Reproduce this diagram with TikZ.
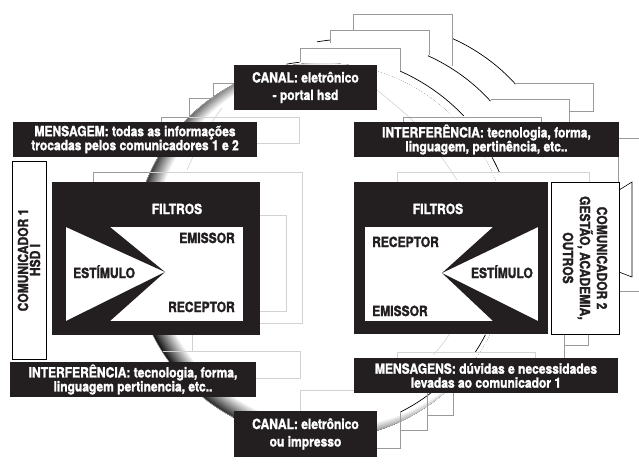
\documentclass[tikz,border=0pt]{standalone}
\usepackage{fontspec}
\setmainfont{texgyreheros-bold}[Extension=.otf, FakeStretch=0.86, FakeBold=1.6]
\definecolor{boxblack}{HTML}{231F20}
\definecolor{lineout}{HTML}{9A9A9A}
\definecolor{linein}{HTML}{D2D2D2}
\newcommand{\lblfont}{\fontsize{14}{14}\selectfont}
\newcommand{\canalfont}{\fontsize{14}{17.5}\selectfont}
\newcommand{\comAfont}{\fontsize{14}{12}\selectfont}
\newcommand{\comBfont}{\fontsize{14}{17}\selectfont}
\begin{document}
\begin{tikzpicture}[x=1pt,y=-1pt,
  darkbox/.style={fill=boxblack, draw=none, inner sep=0pt, text=white, align=center},
  combox/.style={fill=white, draw=black, line width=0.8pt, inner sep=0pt, align=center, text=boxblack},
  filterbox/.style={fill=boxblack, draw=none, inner sep=0pt},
  wlabel/.style={text=white, font=\lblfont, inner sep=0pt},
  blabel/.style={text=boxblack, font=\lblfont, inner sep=0pt},
  outline/.style={draw=lineout, line width=0.6pt},
  inline/.style={draw=linein, line width=0.6pt},
  rim/.style={draw=black, line width=0.7pt}]
\useasboundingbox (0,0) rectangle (639,467);

% ---------- main sphere with shaded rim ----------
\coordinate (sc) at (321,251);
\coordinate (hc) at (334.2,246.2);
\begin{scope}
  \clip (sc) circle (188);
  \fill[black!95] (sc) circle (190);
  \foreach \i in {0,...,21}{
    \pgfmathtruncatemacro\shadeval{95*(21-\i)/21}
    \fill[black!\shadeval] (hc) circle ({202-\i});
  }
  \fill[white] (hc) circle (181);
\end{scope}
\draw[gray!70, line width=0.5pt] (sc) ++(-100:188) arc[start angle=-100, end angle=-242, radius=188];

% faint inner highlight lines
\draw[inline] plot[smooth] coordinates {(222,108) (203,136) (187,170)};
\draw[inline] plot[smooth] coordinates {(377,90) (420,128) (457,180)};
\draw[inline] (sc) ++(32.4:153) arc[start angle=32.4, end angle=42.6, radius=153];

% ---------- back layers: arcs ----------
\coordinate (c1) at (375,212);
\coordinate (c2) at (350,229);
\draw[rim] (c1) ++(-66:190) arc[start angle=-66, end angle=-42.3, radius=190];
\draw[rim] (c2) ++(-65.8:190) arc[start angle=-65.8, end angle=-42.3, radius=190];
\draw[rim] (c2) ++(-100:190) arc[start angle=-100, end angle=-96, radius=190];
% main layer rim pieces
\draw[rim] (sc) ++(-100.5:190) arc[start angle=-100.5, end angle=-96.5, radius=190];
\draw[rim] (sc) ++(-66.2:196.5) arc[start angle=-66.2, end angle=-43.4, radius=196.5];
\draw[rim] (sc) ++(-28.7:195) arc[start angle=-28.7, end angle=-23.9, radius=195];
\draw[rim] (sc) ++(27:184.5) arc[start angle=27, end angle=33.3, radius=184.5];
\draw[rim] (sc) ++(52.2:179.5) arc[start angle=52.2, end angle=63.6, radius=179.5];

% ---------- back layers: sheets ----------
\draw[outline] (353,30) -- (353,14) -- (452,14) -- (452,66);
\draw[outline] (330,43) -- (330,30) -- (429,30) -- (429,55);
\draw[outline] (300,62) -- (300,48) -- (400,48) -- (400,71);
\draw[outline] (515,83) -- (593,83) -- (593,111) -- (569,111);
\draw[outline] (491,99) -- (569,99) -- (569,122);
\draw[outline] (403,122) -- (403,117) -- (541,117) -- (541,122);
\draw[outline] (619,138) -- (639,138);
\draw[outline] (618,157) -- (618,182);
\draw[inline] (397,182) -- (397,172) -- (589,172) -- (589,182);
\draw[outline] (619,291) -- (639,291);
\draw[outline] (564,334) -- (564,358);
\draw[outline] (588,334) -- (588,345) -- (564,345);
\draw[inline] (397,358) -- (397,352) -- (535,352) -- (535,358);
\draw[outline] (453,393) -- (453,415) -- (427,415);
\draw[outline] (427,393) -- (427,430) -- (400,430);
\draw[outline] (400,411) -- (400,448) -- (377,448);
\draw[outline] (234,83) -- (213,83) -- (213,98) -- (189,98) -- (189,117) -- (161,117) -- (161,122);
\draw[inline] (189,117) -- (299,117) -- (299,143) -- (257,143);
\draw[outline] (93,182) -- (93,172) -- (150,172);
\draw[inline] (150,172) -- (302,172) -- (302,323) -- (260,323);
\draw[inline] (260,215) -- (286,215) -- (286,311) -- (260,311);
\draw[inline] (192,335) -- (192,351) -- (300,351) -- (300,378) -- (256,378);
\draw[inline] (163,351) -- (192,351);
\draw[inline] (300,411) -- (300,390) -- (397,390);

% ---------- left filter block ----------
\node[filterbox, minimum width=208pt, minimum height=153pt] (filtL) at (156,258.5) {};
\fill[white] (66,227) rectangle (243,321);
\fill[boxblack] (66,227) -- (110,227) -- (165,272) -- cycle;
\fill[boxblack] (66,321) -- (110,321) -- (165,272) -- cycle;
\node[wlabel, anchor=base] (filtLt) at (177,214) {FILTROS};
\node[blabel, anchor=base east] (emL) at (235,243) {EMISSOR};
\node[blabel, anchor=base west] (esL) at (73,278) {ESTÍMULO};
\node[blabel, anchor=base east] (reL) at (235,312) {RECEPTOR};

% ---------- right filter block ----------
\node[filterbox, minimum width=194pt, minimum height=152pt] (filtR) at (451,258) {};
\fill[white] (365,227) rectangle (538,321);
\fill[boxblack] (493,227) -- (538,227) -- (442,273) -- cycle;
\fill[boxblack] (493,321) -- (538,321) -- (442,273) -- cycle;
\node[wlabel, anchor=base] (filtRt) at (438,214) {FILTROS};
\node[blabel, anchor=base west] (reR) at (372,247) {RECEPTOR};
\node[blabel, anchor=base east] (esR) at (533,278) {ESTÍMULO};
\node[blabel, anchor=base west] (emR) at (372,316) {EMISSOR};

% ---------- communicators ----------
\node[combox, rotate=90, minimum width=198pt, minimum height=34pt, font=\comAfont] (com1) at (29,260) {COMUNICADOR 1\\HSD I};
\node[combox, rotate=-90, minimum width=152pt, minimum height=68pt, font=\comBfont] (com2) at (585,258) {COMUNICADOR 2\\GESTÃO, ACADEMIA,\\OUTROS};
\draw[black, line width=0.6pt] (619,190) -- (632,182) -- (632,277) -- (619,272);

% ---------- label boxes ----------
\node[darkbox, minimum width=143pt, minimum height=45pt, font=\canalfont] (canal1) at (305.5,87.5) {CANAL: eletrônico\\- portal hsd};
\node[darkbox, minimum width=244pt, minimum height=35pt, font=\lblfont] (msg1) at (135,139.5) {MENSAGEM: todas as informações\\trocadas pelos comunicadores 1 e 2};
\node[darkbox, minimum width=265pt, minimum height=35pt, font=\lblfont] (intf1) at (486.5,139.5) {INTERFERÊNCIA: tecnologia, forma,\\linguagem, pertinência, etc..};
\node[darkbox, minimum width=246pt, minimum height=35pt, font=\lblfont] (intf2) at (133,379.5) {INTERFERÊNCIA: tecnologia, forma,\\linguagem pertinencia, etc..};
\node[darkbox, minimum width=264pt, minimum height=35pt, font=\lblfont] (msg2) at (486,375.5) {MENSAGENS: dúvidas e necessidades\\levadas ao comunicador 1};
\node[darkbox, minimum width=143pt, minimum height=46pt, font=\canalfont] (canal2) at (305.5,434) {CANAL: eletrônico\\ou impresso};
\end{tikzpicture}
\end{document}
